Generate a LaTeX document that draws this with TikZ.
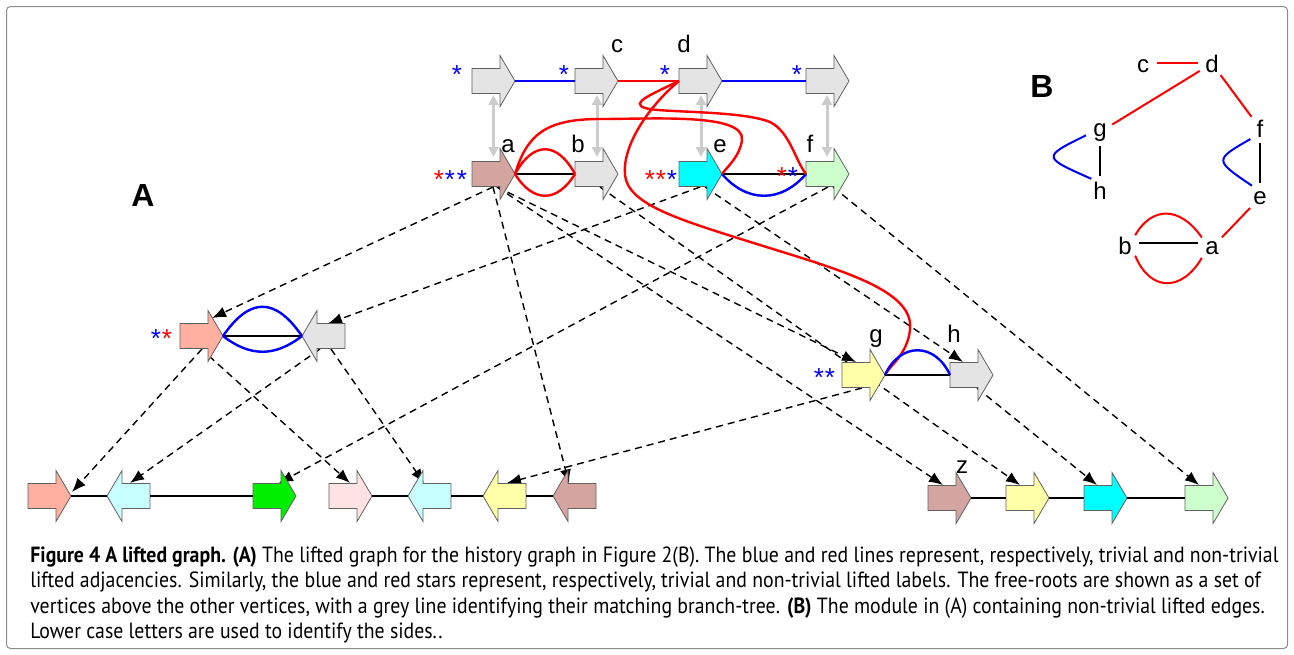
\documentclass[tikz,border=0pt]{standalone}
\usepackage{fontspec}
\setmainfont{Liberation Sans}
\newfontfamily\capfont[FakeStretch=0.9]{PT Sans}
\usetikzlibrary{arrows.meta}
\pgfdeclarelayer{bg}
\pgfsetlayers{bg,main}
\definecolor{cbrown}{HTML}{D4A5A0}
\definecolor{cgray}{HTML}{E4E4E4}
\definecolor{ccyan}{HTML}{00FFFF}
\definecolor{clgreen}{HTML}{CCFFCC}
\definecolor{csalmon}{HTML}{FFB0A0}
\definecolor{cyellow}{HTML}{FFFFA8}
\definecolor{clcyan}{HTML}{C8FFFF}
\definecolor{cgreen}{HTML}{00F000}
\definecolor{cpink}{HTML}{FFE2E2}
\definecolor{cred}{HTML}{FF0000}
\definecolor{cblue}{HTML}{0000FF}
\definecolor{greyarr}{HTML}{CCCCCC}
\definecolor{framec}{HTML}{8C8C8C}
\tikzset{
  blk/.style={draw=black!62, line width=0.4pt, line join=miter},
  body/.style={inner sep=0pt, minimum width=14pt, minimum height=12.5pt},
  redE/.style={draw=cred, line width=1.2pt},
  blueE/.style={draw=cblue, line width=1.2pt},
  blackE/.style={draw=black, line width=1.1pt},
  dsh/.style={draw=black, line width=0.7pt, dash pattern=on 3.5pt off 2.5pt, -{Latex[length=7pt,width=5.5pt]}},
  greyA/.style={draw=greyarr, line width=1.5pt, {Triangle[length=5pt,width=5pt]}-{Triangle[length=5pt,width=5pt]}},
  lab/.style={anchor=base, inner sep=0pt, font=\fontsize{12}{12}\selectfont},
  bigl/.style={anchor=base, inner sep=0pt, font=\fontsize{16}{16}\selectfont\bfseries},
  astk/.style={anchor=base, inner sep=0pt, font=\fontsize{13}{13}\selectfont},
  bnode/.style={circle, inner sep=0pt, minimum size=14pt, anchor=base, font=\fontsize{12}{12}\selectfont},
  capn/.style={anchor=base west, inner sep=0pt, font=\capfont\fontsize{11}{13}\selectfont},
}
\newcommand\blkR[4]{%
  \node[body] (#1) at (#2+14,#3) {};
  \coordinate (#1-in) at (#2,#3);
  \coordinate (#1-tip) at (#2+43,#3);
  \draw[blk,fill=#4] (#2,#3-12.5) -- (#2+28,#3-12.5) -- (#2+28,#3-25.5) -- (#2+43,#3) -- (#2+28,#3+25.5) -- (#2+28,#3+12.5) -- (#2,#3+12.5) -- cycle;}
\newcommand\blkL[4]{%
  \node[body] (#1) at (#2+29,#3) {};
  \coordinate (#1-tip) at (#2,#3);
  \coordinate (#1-in) at (#2+43,#3);
  \draw[blk,fill=#4] (#2,#3) -- (#2+15,#3-25.5) -- (#2+15,#3-12.5) -- (#2+43,#3-12.5) -- (#2+43,#3+12.5) -- (#2+15,#3+12.5) -- (#2+15,#3+25.5) -- cycle;}
\newcommand\stx[4]{\node[astk,text=#4] (#1) at (#2,#3+15) {*};}
\begin{document}
\begin{tikzpicture}[x=0.5pt,y=-0.5pt]
\useasboundingbox (0,0) rectangle (1294,654);
\draw[framec, line width=0.5pt, rounded corners=2pt] (6.5,6.5) rectangle (1287.5,648.5);

% ---- block arrows
\blkR{r1}{472}{81}{cgray}
\blkR{rc}{575}{81}{cgray}
\blkR{rd}{679}{81}{cgray}
\blkR{r4}{806}{81}{cgray}
\blkR{A}{472}{174}{cbrown}
\blkR{B}{575}{174}{cgray}
\blkR{E}{679}{174}{ccyan}
\blkR{F}{806}{174}{clgreen}
\blkR{S}{180}{336}{csalmon}
\blkL{T}{302}{336}{cgray}
\blkR{G}{842}{375}{cyellow}
\blkR{H}{950}{375}{cgray}
\blkR{B1}{28}{496}{csalmon}
\blkL{B2}{107}{496}{clcyan}
\blkR{B3}{253}{496}{cgreen}
\blkR{B4}{329}{496}{cpink}
\blkL{B5}{408}{496}{clcyan}
\blkL{B6}{483}{496}{cyellow}
\blkL{B7}{553}{496}{cbrown}
\blkR{B8}{928}{498}{cbrown}
\blkR{B9}{1006}{498}{cyellow}
\blkR{B10}{1084}{498}{ccyan}
\blkR{B11}{1185}{498}{clgreen}

% ---- background: grey identity arrows and dashed ancestry arrows
\begin{pgfonlayer}{bg}
\draw[greyA] ([shift={(7.5,14)}]r1.center) -- ([shift={(7.5,-17)}]A.center);
\draw[greyA] ([shift={(8,14)}]rc.center) -- ([shift={(8,-17)}]B.center);
\draw[greyA] ([shift={(8,14)}]rd.center) -- ([shift={(8,-17)}]E.center);
\draw[greyA] ([shift={(7,14)}]r4.center) -- ([shift={(7,-17)}]F.center);

\draw[dsh] ([shift={(7,13)}]A.center) -- ([shift={(18,-18)}]S.center);
\draw[dsh] ([shift={(7,13)}]A.center) -- ([shift={(-13,-12.5)}]B7.center);
\draw[dsh] ([shift={(11,13)}]A.center) -- ([shift={(0,-13)}]G.center);
\draw[dsh] ([shift={(11,13)}]A.center) -- ([shift={(1,-13)}]B8.center);
\draw[dsh] ([shift={(11,13)}]B.center) -- ([shift={(0,-13)}]B9.center);
\draw[dsh] ([shift={(7,13)}]E.center) -- ([shift={(-3,-12.5)}]T.center);
\draw[dsh] ([shift={(12,13)}]E.center) -- ([shift={(-1,-13)}]H.center);
\draw[dsh] ([shift={(8,13)}]F.center) -- ([shift={(12,-13)}]B3.center);
\draw[dsh] ([shift={(13,13)}]F.center) -- ([shift={(0,-13)}]B11.center);
\draw[dsh] ([shift={(8,13)}]S.center) -- ([shift={(30,-4)}]B1.center);
\draw[dsh] ([shift={(15,20)}]S.center) -- ([shift={(7,-13)}]B4.center);
\draw[dsh] ([shift={(-11,13)}]T.center) -- ([shift={(-6,-13)}]B2.center);
\draw[dsh] ([shift={(0,13)}]T.center) -- ([shift={(-13,-13)}]B5.center);
\draw[dsh] ([shift={(6,13)}]G.center) -- ([shift={(-5,-13)}]B6.center);
\draw[dsh] ([shift={(13,13)}]H.center) -- ([shift={(-1,-13)}]B10.center);
\end{pgfonlayer}

% ---- adjacency edges, free roots
\draw[blueE] (r1-tip) -- (rc-in);
\draw[redE] (rc-tip) -- (rd-in);
\draw[blueE] (rd-tip) -- (r4-in);
% row of branch tree roots
\draw[blackE] (A-tip) -- (B-in);
\draw[redE] (A-tip) .. controls +(18,-33) and +(-18,-33) .. (B-in);
\draw[redE] (A-tip) .. controls +(18,29) and +(-18,29) .. (B-in);
\draw[blackE] (E-tip) -- (F-in);
\draw[blueE] (E-tip) .. controls +(25,29) and +(-25,29) .. (F-in);
\draw[redE] (A-tip) .. controls (527,135) and (545,119) .. (600,119) .. controls (655,119) and (745,113) .. (742,140) .. controls (740,156) and (728,166) .. (E-tip);
\draw[redE] (rd-in) .. controls (650,95) and (630,103) .. (645,108) .. controls (660,113) and (740,110) .. (770,122) .. controls (790,132) and (795,160) .. (F-in);
\draw[redE] (rd-in) .. controls (650,105) and (622,145) .. (625,175) .. controls (628,205) and (680,220) .. (760,245) .. controls (840,270) and (915,290) .. (910,330) .. controls (907,355) and (890,365) .. (G-tip);
% middle
\draw[blackE] (S-tip) -- (T-tip);
\draw[blueE] (S-tip) .. controls +(27,-39) and +(-27,-39) .. (T-tip);
\draw[blueE] (S-tip) .. controls +(27,21) and +(-27,21) .. (T-tip);
\draw[blackE] (G-tip) -- (H-in);
\draw[blueE] (G-tip) .. controls +(15,-33) and +(-15,-33) .. (H-in);
% bottom
\draw[blackE] (B1-tip) -- (B2-tip);
\draw[blackE] (B2-in) -- (B3-in);
\draw[blackE] (B4-tip) -- (B5-tip);
\draw[blackE] (B5-in) -- (B6-tip);
\draw[blackE] (B6-in) -- (B7-tip);
\draw[blackE] (B8-tip) -- (B9-in);
\draw[blackE] (B9-tip) -- (B10-in);
\draw[blackE] (B10-tip) -- (B11-in);

% ---- labels
\node[lab] (lc) at (617,52) {c};
\node[lab] (ld) at (684,52) {d};
\node[lab] (la) at (508,152) {a};
\node[lab] (lb) at (578,152) {b};
\node[lab] (le) at (720,152) {e};
\node[lab] (lf) at (810,152) {f};
\node[lab] (lg) at (876,342) {g};
\node[lab] (lh) at (954,342) {h};
\node[lab] (lz) at (962,473) {z};
\node[bigl] (lA) at (143,206) {A};
\node[bigl] (lB) at (1042,97) {B};

% ---- stars
\stx{s1}{457}{68}{cblue}
\stx{s2}{564}{68}{cblue}
\stx{s3}{665}{68}{cblue}
\stx{s4}{797}{68}{cblue}
\stx{s5}{439}{173}{cred}
\stx{s6}{450}{173}{cblue}
\stx{s7}{462}{173}{cblue}
\stx{s8}{650}{173}{cred}
\stx{s9}{661}{173}{cred}
\stx{s10}{672}{173}{cblue}
\stx{s11}{782}{170}{cred}
\stx{s12}{793}{170}{cblue}
\stx{s13}{156}{332}{cblue}
\stx{s14}{167}{332}{cred}
\stx{s15}{819}{371}{cblue}
\stx{s16}{830}{371}{cblue}

% ---- panel B
\node[bnode] (Bc) at (1143,72) {c};
\node[bnode] (Bd) at (1212,72) {d};
\node[bnode] (Bg) at (1100,136) {g};
\node[bnode] (Bf) at (1260,137) {f};
\node[bnode] (Bh) at (1100,199) {h};
\node[bnode] (Be) at (1260,204) {e};
\node[bnode] (Bb) at (1125,254) {b};
\node[bnode] (Ba) at (1212,254) {a};
\draw[redE, line width=1pt] ([yshift=1.5pt]Bc.east) -- ([yshift=1.5pt]Bc.east -| Bd.west);
\draw[redE, line width=1pt] (Bd) -- (Bg);
\draw[redE, line width=1pt] (Bd) -- (Bf);
\draw[redE, line width=1pt] (Be) -- (Ba);
\draw[blackE, line width=1pt] (Bg) -- (Bh);
\draw[blackE, line width=1pt] (Bf) -- (Be);
\draw[blackE, line width=1pt] ([yshift=1pt]Bb.east) -- ([yshift=1pt]Bb.east -| Ba.west);
\draw[blueE, line width=1pt] (Bg.193) .. controls (1042,157) .. (Bh.127);
\draw[blueE, line width=1pt] (Bf.228) .. controls (1214,160) .. (Be.124);
\draw[redE, line width=1pt] (Bb.45) .. controls (1152,206) and (1180,206) .. (Ba.135);
\draw[redE, line width=1pt] (Bb.-45) .. controls (1150,292) and (1182,292) .. (Ba.-135);

% ---- caption
\node[capn] (cap1) at (30,562) {\textbf{Figure 4 A lifted graph. (A)} The lifted graph for the history graph in Figure 2(B). The blue and red lines represent, respectively, trivial and non-trivial};
\node[capn] (cap2) at (30,587) {lifted adjacencies. Similarly, the blue and red stars represent, respectively, trivial and non-trivial lifted labels. The free-roots are shown as a set of};
\node[capn] (cap3) at (30,613) {vertices above the other vertices, with a grey line identifying their matching branch-tree. \textbf{(B)} The module in (A) containing non-trivial lifted edges.};
\node[capn] (cap4) at (30,638) {Lower case letters are used to identify the sides..};
\end{tikzpicture}
\end{document}
